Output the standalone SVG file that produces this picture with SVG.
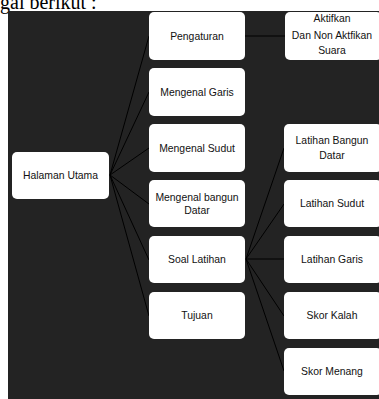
<svg xmlns="http://www.w3.org/2000/svg" width="379" height="399" viewBox="0 0 379 399">
<style>
.bg{fill:#232323}
.box{fill:#ffffff;stroke:none}
.t{font-family:"Liberation Sans",Arial,sans-serif;font-size:10.4px;fill:#111111;text-anchor:middle}
.ln{stroke:#000000;stroke-width:1;fill:none}
</style>
<rect x="0" y="0" width="379" height="399" fill="#ffffff"/>
<text x="0" y="9" font-family="Liberation Serif,Times New Roman,serif" font-size="20" fill="#000">gai berikut :</text>
<rect class="bg" x="8" y="11" width="371" height="388"/>
<g id="connectors">
<line class="ln" x1="110" y1="175" x2="149" y2="36"/>
<line class="ln" x1="110" y1="175" x2="149" y2="92"/>
<line class="ln" x1="110" y1="175" x2="149" y2="148"/>
<line class="ln" x1="110" y1="175" x2="149" y2="204"/>
<line class="ln" x1="110" y1="175" x2="149" y2="260"/>
<line class="ln" x1="110" y1="175" x2="149" y2="316"/>
<line class="ln" x1="245" y1="36" x2="285" y2="36"/>
<line class="ln" x1="246" y1="259" x2="284" y2="148"/>
<line class="ln" x1="246" y1="259" x2="284" y2="204"/>
<line class="ln" x1="246" y1="259" x2="284" y2="259"/>
<line class="ln" x1="246" y1="259" x2="284" y2="316"/>
<line class="ln" x1="246" y1="259" x2="284" y2="371"/>
</g>
<g id="halaman-utama"><rect class="box" x="12" y="152" width="97" height="47" rx="5"/><text class="t" x="60.5" y="179">Halaman Utama</text></g>
<g id="pengaturan"><rect class="box" x="149" y="12" width="96" height="48" rx="5"/><text class="t" x="197" y="39.5">Pengaturan</text></g>
<g id="mengenal-garis"><rect class="box" x="149" y="68" width="96" height="48" rx="5"/><text class="t" x="197" y="95.5">Mengenal Garis</text></g>
<g id="mengenal-sudut"><rect class="box" x="149" y="124" width="96" height="48" rx="5"/><text class="t" x="197" y="151.5">Mengenal Sudut</text></g>
<g id="mengenal-bangun-datar"><rect class="box" x="149" y="180" width="96" height="47" rx="5"/><text class="t" x="197" y="200.5">Mengenal bangun</text><text class="t" x="197" y="213.5">Datar</text></g>
<g id="soal-latihan"><rect class="box" x="149" y="236" width="96" height="47" rx="5"/><text class="t" x="197" y="263">Soal Latihan</text></g>
<g id="tujuan"><rect class="box" x="149" y="292" width="96" height="47" rx="5"/><text class="t" x="197" y="319">Tujuan</text></g>
<g id="aktifkan"><rect class="box" x="285" y="12" width="97" height="48" rx="5"/><text class="t" x="332" y="21.5">Aktifkan</text><text class="t" x="332" y="38.5">Dan Non Aktfikan</text><text class="t" x="332" y="53.5">Suara</text></g>
<g id="latihan-bangun-datar"><rect class="box" x="284" y="124" width="98" height="48" rx="5"/><text class="t" x="332" y="143.5">Latihan Bangun</text><text class="t" x="332" y="158.5">Datar</text></g>
<g id="latihan-sudut"><rect class="box" x="284" y="180" width="98" height="47" rx="5"/><text class="t" x="332" y="206.5">Latihan Sudut</text></g>
<g id="latihan-garis"><rect class="box" x="284" y="236" width="98" height="47" rx="5"/><text class="t" x="332" y="263">Latihan Garis</text></g>
<g id="skor-kalah"><rect class="box" x="284" y="292" width="98" height="47" rx="5"/><text class="t" x="332" y="319">Skor Kalah</text></g>
<g id="skor-menang"><rect class="box" x="284" y="348" width="98" height="47" rx="5"/><text class="t" x="332" y="375">Skor Menang</text></g>
</svg>
